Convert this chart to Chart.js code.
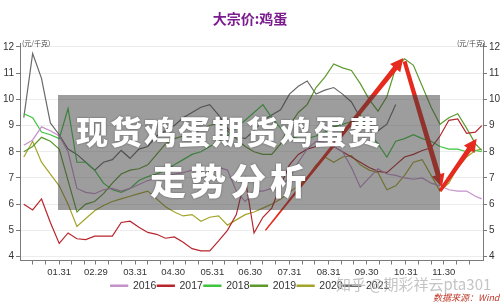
<!DOCTYPE html>
<html>
<head>
<meta charset="utf-8">
<script src="https://cdn.jsdelivr.net/npm/chart.js"></script>
<style>
  html, body { margin: 0; padding: 0; background: #fff; }
  #wrap { position: relative; width: 500px; height: 305px; overflow: hidden; font-family: "Noto Sans CJK SC", "Noto Sans", sans-serif; }
  #eggChart { position: absolute; left: 0; top: 0; }
  .title { position: absolute; left: 0; width: 500px; top: 8px; text-align: center; color: #7b1c8e; font-weight: bold; font-size: 14px; }
  .unit { position: absolute; top: 38px; font-size: 7px; color: #444; }
  .banner { position: absolute; left: 58px; top: 95px; width: 382px; height: 115px; background: rgba(60,60,60,0.5); }
  .banner div { position: absolute; color: #fff; font-weight: 900; white-space: nowrap; text-shadow: 0 0 2px rgba(0,0,0,0.5); }
  .mark { position: absolute; left: 336px; top: 273px; font-size: 15px; color: rgba(190,190,190,0.9); white-space: nowrap; }
  .source { position: absolute; left: 433px; top: 291px; font-size: 9px; font-style: italic; color: #c0392b; white-space: nowrap; }
</style>
</head>
<body>
<div id="wrap">
  <canvas id="eggChart" width="500" height="305"></canvas>
  <div class="title">大宗价:鸡蛋</div>
  <div class="unit" style="left:22px">(元/千克)</div>
  <div class="unit" style="left:457px">(元/千克)</div>
  <div class="banner">
    <div style="left:18px; top:12px; font-size:32px; letter-spacing:2px">现货鸡蛋期货鸡蛋费</div>
    <div style="left:92px; top:58px; font-size:36px; letter-spacing:4px">走势分析</div>
  </div>
  <div class="mark">知乎 @期彩祥云pta301</div>
  <div class="source">数据来源：Wind</div>
</div>
<script>
// weekly observations, x = day of year
const weekDays = [3,10,17,24,31,38,45,52,59,66,73,80,87,94,101,108,115,122,129,136,143,150,157,164,171,178,
  185,192,199,206,213,220,227,234,241,248,255,262,269,276,283,290,297,304,311,318,325,332,339,346,353,360,365];

const years = ['2016','2017','2018','2019','2020','2021'];
const colors = ['#c690c9','#b8262d','#3ec43e','#5c9a2c','#a4a42a','#6a6a6a'];

const y2016 = [8.25,8.45,8.95,8.8,8.6,8.0,6.6,6.45,6.4,6.55,6.6,6.5,6.6,6.75,6.9,7.0,7.1,7.15,7.2,7.3,7.35,7.4,7.4,7.3,6.5,6.1,
  6.5,6.5,6.6,6.7,7.0,7.6,8.1,8.4,8.35,8.2,8.0,7.4,6.65,7.0,7.35,7.15,7.1,7.0,6.95,7.0,6.8,6.7,6.55,6.5,6.5,6.3,6.2];
const y2017 = [6.0,5.78,6.2,5.3,4.5,4.9,4.68,4.65,4.78,4.78,4.78,5.3,5.35,5.12,4.92,4.85,4.7,4.75,4.55,4.3,4.22,4.22,4.6,5.0,5.6,7.0,
  4.9,5.5,5.85,6.7,7.5,7.9,8.1,8.2,8.3,8.2,8.0,7.8,7.6,7.4,7.25,7.2,7.5,7.8,7.9,8.05,8.15,8.6,9.2,9.25,8.7,8.75,9.0];
const y2018 = [9.45,9.3,8.75,8.65,8.5,9.65,7.6,7.6,7.3,6.8,6.55,6.45,6.6,6.9,7.05,7.15,7.3,7.5,7.7,7.9,8.0,8.2,8.4,8.6,8.9,9.2,
  9.5,9.8,9.3,8.9,8.6,8.5,8.5,8.6,8.75,8.95,9.05,9.15,9.4,8.7,8.3,7.8,8.4,8.5,8.65,8.5,8.4,8.2,8.1,8.1,8.0,8.05,8.0];
const y2019 = [8.0,8.2,8.55,8.4,8.1,6.9,5.7,6.0,6.1,6.4,6.8,7.15,7.3,7.35,7.5,7.9,8.3,8.5,8.6,8.7,8.85,9.0,9.1,8.8,8.5,8.2,
  8.0,7.9,7.9,8.3,9.0,9.5,9.8,10.45,10.85,11.35,11.2,11.1,10.6,10.0,9.55,10.1,11.2,11.55,11.3,10.5,9.7,9.05,9.3,9.45,8.9,8.3,8.05];
const y2020 = [7.8,8.4,7.6,7.15,6.7,6.0,5.15,5.45,5.75,5.95,6.1,6.2,6.3,6.4,6.5,6.2,5.9,5.7,5.55,5.6,5.35,5.5,5.55,5.2,5.4,5.6,
  5.7,5.85,6.0,6.2,6.45,6.7,7.0,7.5,7.8,7.6,7.8,7.85,7.5,7.3,7.2,6.55,6.7,7.1,7.6,7.7,7.1,6.5,6.8,7.4,7.8,8.05,8.1];
const y2021 = [9.3,11.75,10.8,9.1,8.65,8.1,7.9,7.6,7.3,7.6,7.7,8.05,7.75,8.1,8.2,8.6,8.8,9.0,9.3,9.5,9.7,9.8,9.4,8.9,8.6,8.5,
  8.8,9.2,9.4,9.6,10.2,10.5,10.7,10.2,10.35,10.45,10.2,9.9,9.3,8.9,8.8,9.05,9.8,null,null,null,null,null,null,null,null,null,null];
const series = [y2016, y2017, y2018, y2019, y2020, y2021];

// x axis: minor ticks every ~10 days, labels at month ends
const tickDays = [10,20,31,41,51,60,70,80,91,101,111,121,131,141,152,162,172,182,192,202,213,223,233,244,
  254,264,274,284,294,305,315,325,335,345,355];
const monthEnds = [31,60,91,121,152,182,213,244,274,305,335];
const monthLabels = ['01.31','02.29','03.31','04.30','05.31','06.30','07.31','08.31','09.30','10.31','11.30'];
const yTicks = [4,5,6,7,8,9,10,11,12];

// red trend arrows [day, price]
const arrowFrom = [[194,5.0],[304,11.45],[332,6.5]];
const arrowTo = [[303,11.58],[333.5,6.65],[361,8.5]];
const arrowTail = [1.5,4,3.5];

const arrowPlugin = {
  id: 'arrows',
  afterDatasetsDraw(chart) {
    const ctx = chart.ctx, xs = chart.scales.x, ys = chart.scales.y;
    ctx.save();
    ctx.fillStyle = '#e62a1e';
    for (let k = 0; k < arrowFrom.length; k++) {
      const x0 = xs.getPixelForValue(arrowFrom[k][0]), y0 = ys.getPixelForValue(arrowFrom[k][1]);
      const x1 = xs.getPixelForValue(arrowTo[k][0]), y1 = ys.getPixelForValue(arrowTo[k][1]);
      const len = Math.hypot(x1 - x0, y1 - y0);
      const dx = (x1 - x0) / len, dy = (y1 - y0) / len;
      const nx = -dy, ny = dx;
      const head = 13, hw = 6.5, w0 = arrowTail[k] / 2, w1 = 2.6;
      const bx = x1 - dx * head, by = y1 - dy * head;
      ctx.beginPath();
      ctx.moveTo(x0 + nx * w0, y0 + ny * w0);
      ctx.lineTo(bx + nx * w1, by + ny * w1);
      ctx.lineTo(bx + nx * hw, by + ny * hw);
      ctx.lineTo(x1, y1);
      ctx.lineTo(bx - nx * hw, by - ny * hw);
      ctx.lineTo(bx - nx * w1, by - ny * w1);
      ctx.lineTo(x0 - nx * w0, y0 - ny * w0);
      ctx.closePath();
      ctx.fill();
    }
    ctx.restore();
  }
};

const datasets = years.map((yr, i) => ({
  label: yr,
  data: series[i].map((v, j) => ({ x: weekDays[j], y: v })),
  borderColor: colors[i],
  backgroundColor: colors[i],
  borderWidth: 1.2,
  pointRadius: 0,
  tension: 0,
  spanGaps: false
}));

const yAxis = (pos, width) => ({
  type: 'linear',
  position: pos,
  min: 3.85,
  max: 12.15,
  afterBuildTicks: (s) => { s.ticks = yTicks.map(v => ({ value: v })); },
  afterFit: (s) => { s.width = width; },
  border: { color: '#7a7a7a' },
  grid: { color: pos === 'left' ? '#ececec' : 'rgba(0,0,0,0)', tickColor: '#7a7a7a', tickLength: 4 },
  ticks: { color: '#333', padding: 2, font: { family: 'Liberation Sans', size: 10 } }
});

new Chart(document.getElementById('eggChart'), {
  type: 'line',
  data: { datasets },
  plugins: [arrowPlugin],
  options: {
    responsive: false,
    devicePixelRatio: 1,
    animation: false,
    layout: { padding: { top: 43, left: 0, right: 0, bottom: 4 } },
    plugins: {
      tooltip: { enabled: false },
      legend: {
        position: 'bottom',
        labels: { boxWidth: 17, boxHeight: 1.5, padding: 1, color: '#333', font: { family: 'Liberation Sans', size: 10.5 } }
      }
    },
    scales: {
      x: {
        type: 'linear',
        min: 0,
        max: 366,
        afterBuildTicks: (s) => { s.ticks = tickDays.map(v => ({ value: v })); },
        afterFit: (s) => { s.height = 19; },
        border: { color: '#7a7a7a' },
        grid: { drawOnChartArea: false, tickColor: '#7a7a7a', tickLength: 4 },
        ticks: {
          autoSkip: false, maxRotation: 0, padding: 2, color: '#333',
          font: { family: 'Liberation Sans', size: 9.5 },
          callback: (v) => { const k = monthEnds.indexOf(v); return k >= 0 ? monthLabels[k] : ''; }
        }
      },
      y: yAxis('left', 20),
      y2: yAxis('right', 17)
    }
  }
});
</script>
</body>
</html>
